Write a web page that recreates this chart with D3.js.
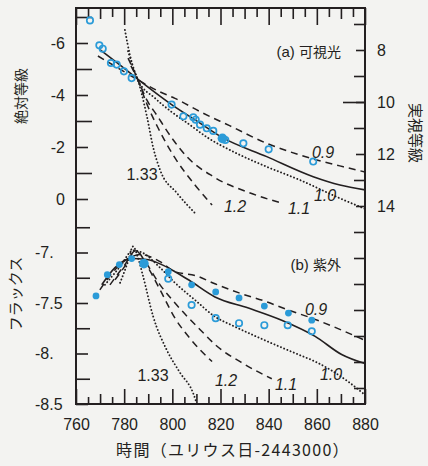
<!DOCTYPE html>
<html>
<head>
<meta charset="utf-8">
<script src="https://cdn.jsdelivr.net/npm/d3@7"></script>
<style>
  body { margin: 0; background: #f3f3f1; }
  svg { display: block; }
  text { font-family: "Liberation Sans", Arial, sans-serif; fill: #231f20; }
  .jp { font-family: "Noto Sans CJK JP", sans-serif; }
</style>
</head>
<body>
<svg width="428" height="466"></svg>
<script>
// axis ticks
const dayTicks = [760, 780, 800, 820, 840, 860, 880]
const magTicks = [-6, -4, -2, 0]
const fluxTicks = [-7, -7.5, -8, -8.5]
const fluxTickLabels = ['-7.', '-7.5', '-8.', '-8.5']
const appTicks = [8, 10, 12, 14]

// (a) visible: observed absolute magnitude
const visOpen = [[765.8, -6.87], [769.7, -5.91], [771.1, -5.78], [774.5, -5.23], [776.9, -5.17],
  [779.9, -4.91], [783.1, -4.65], [799.7, -3.63], [804.6, -3.18], [808.7, -3.14], [809.7, -3.05],
  [811.5, -2.86], [814.3, -2.72], [817, -2.62], [822, -2.27], [829.5, -2.14], [840, -1.91], [858.5, -1.44]]
const visFilled = [[820.8, -2.33]]

// (a) model curves
const visSolid = [[770, -5.74], [778.3, -5.15], [785.9, -4.59], [799.7, -3.63], [811.5, -2.92],
  [820.5, -2.38], [839.2, -1.63], [858.5, -0.86], [869.6, -0.54], [880, -0.35]]
const vis09 = [[769.1, -5.5], [777.4, -5.04], [785.7, -4.58], [794.9, -4.12], [801.1, -3.87],
  [811.5, -3.36], [824, -2.81], [839.2, -2.14], [853, -1.69], [871, -1.24], [880, -1.04]]
const vis10 = [[781.6, -5.69], [785.7, -4.58], [792.8, -3.88], [799.7, -3.35], [807.3, -2.85],
  [814.8, -2.35], [824, -1.88], [839.2, -1.24], [853, -0.73], [868.3, -0.08], [880, 0.38]]
const vis11 = [[782.8, -5.12], [785.7, -4.58], [789.4, -3.81], [793.5, -3.23], [800.4, -2.27],
  [806, -1.63], [817, -0.86], [832.3, -0.23], [845.1, 0.15]]
const vis12 = [[781.6, -5.42], [785.7, -4.58], [789.1, -3.73], [794.1, -2.73], [801.1, -1.58],
  [809.4, -0.54], [816.5, 0.23]]
const vis133 = [[780.3, -6.5], [782.4, -5.54], [784.1, -4.96], [785.7, -4.58], [787.4, -4.0],
  [789.5, -3.15], [792, -2.0], [794.9, -1.12], [801.9, -0.23], [809.4, 0.54]]

// (b) ultraviolet: log flux
const uvFilled = [[768.3, -7.43], [773, -7.22], [778, -7.12], [783.1, -7.06], [798.3, -7.19],
  [808, -7.32], [818, -7.39], [827.7, -7.45], [838.2, -7.53], [848.2, -7.6], [857.9, -7.67]]
const uvFilledBig = [[788.2, -7.11]]
const uvOpen = [[798.3, -7.26], [808, -7.52], [818, -7.65], [827.7, -7.7], [838.2, -7.72],
  [847.9, -7.72], [857.9, -7.78]]

// (b) model curves
const uvSolid = [[770.7, -7.32], [776.2, -7.15], [783.1, -7.06], [789.4, -7.07], [795.6, -7.12],
  [801.1, -7.19], [807.3, -7.28], [817.7, -7.44], [831.6, -7.55], [845.4, -7.67], [859.3, -7.83],
  [870.3, -8.01], [880, -8.1]]
const uv09 = [[769.9, -7.37], [776.2, -7.17], [782.4, -7.05], [786.6, -7.02], [794.9, -7.09],
  [801.1, -7.19], [809.8, -7.23], [817.7, -7.31], [827.7, -7.4], [838.2, -7.48], [848.2, -7.57],
  [857.9, -7.65], [880, -7.87]]
const uv10 = [[772, -7.32], [778.3, -7.14], [783.7, -6.98], [787.4, -7.0], [794.9, -7.15],
  [801.1, -7.3], [809.4, -7.47], [818, -7.64], [824.7, -7.72], [838.5, -7.87], [852.3, -8.01],
  [859.3, -8.08], [873.1, -8.28], [880, -8.41]]
const uv11 = [[774.1, -7.32], [780.3, -7.12], [784.9, -6.98], [788.7, -7.09], [794.9, -7.32],
  [801.1, -7.5], [812.2, -7.78], [817.7, -7.91], [830.2, -8.11], [841.3, -8.25]]
const uv12 = [[776.2, -7.27], [781.6, -7.09], [784.5, -6.98], [789.9, -7.15], [794.9, -7.37],
  [801.1, -7.65], [807.3, -7.85], [816.5, -8.08]]
const uv133 = [[778.3, -7.3], [781.6, -7.09], [783.7, -6.94], [785.7, -7.05], [787.8, -7.23],
  [792, -7.63], [797.8, -7.97], [803.2, -8.19], [808.6, -8.39], [810.2, -8.5]]

const svg = d3.select('svg')
const ink = '#231f20'
const blue = '#2b9bd8'

const x = d3.scaleLinear().domain([760, 880]).range([76, 365])
const yMag = d3.scaleLinear().domain([-6, 0]).range([43, 199])
const yApp = d3.scaleLinear().domain([8, 14]).range([50, 206])
const yFlux = d3.scaleLinear().domain([-7, -8.5]).range([252.5, 404])

const frame = { top: 8, bottom: 404, left: 76, right: 365 }

// ticks (all pointing inward)
const tickStyle = g => g
  .call(g => g.select('.domain').remove())
  .call(g => g.selectAll('line').attr('stroke', ink).attr('stroke-width', 1.6))
  .call(g => g.selectAll('text').attr('font-size', 16).attr('fill', ink))

svg.append('g').attr('transform', `translate(0,${frame.bottom})`)
  .call(d3.axisBottom(x).tickValues(dayTicks).tickSizeInner(-15).tickSizeOuter(0).tickPadding(15))
  .call(tickStyle)
svg.append('g').attr('transform', `translate(0,${frame.bottom})`)
  .call(d3.axisBottom(x).tickValues(d3.range(770, 880, 20)).tickSizeInner(-10).tickSizeOuter(0).tickFormat(''))
  .call(tickStyle)
svg.append('g').attr('transform', `translate(0,${frame.bottom})`)
  .call(d3.axisBottom(x).tickValues(d3.range(765, 880, 10)).tickSizeInner(-7).tickSizeOuter(0).tickFormat(''))
  .call(tickStyle)

svg.append('g').attr('transform', `translate(0,${frame.top})`)
  .call(d3.axisTop(x).tickValues(dayTicks).tickSizeInner(-17).tickSizeOuter(0).tickFormat(''))
  .call(tickStyle)
svg.append('g').attr('transform', `translate(0,${frame.top})`)
  .call(d3.axisTop(x).tickValues(d3.range(770, 880, 20)).tickSizeInner(-11).tickSizeOuter(0).tickFormat(''))
  .call(tickStyle)
svg.append('g').attr('transform', `translate(0,${frame.top})`)
  .call(d3.axisTop(x).tickValues(d3.range(765, 880, 10)).tickSizeInner(-9).tickSizeOuter(0).tickFormat(''))
  .call(tickStyle)

svg.append('g').attr('transform', `translate(${frame.left},0)`)
  .call(d3.axisLeft(yMag).tickValues(magTicks).tickSizeInner(-12).tickSizeOuter(0).tickPadding(11).tickFormat(d => String(d)))
  .call(tickStyle)
svg.append('g').attr('transform', `translate(${frame.left},0)`)
  .call(d3.axisLeft(yMag).tickValues([-7, -5, -3, -1]).tickSizeInner(-16).tickSizeOuter(0).tickFormat(''))
  .call(tickStyle)

svg.append('g').attr('transform', `translate(${frame.left},0)`)
  .call(d3.axisLeft(yFlux).tickValues(fluxTicks).tickSizeInner(-12).tickSizeOuter(0).tickPadding(41).tickFormat((d, i) => fluxTickLabels[i]))
  .call(tickStyle)
  .call(g => g.selectAll('text').attr('text-anchor', 'start'))
svg.append('g').attr('transform', `translate(${frame.left},0)`)
  .call(d3.axisLeft(yFlux).tickValues([-6.75, -7.25, -7.75, -8.25]).tickSizeInner(-14).tickSizeOuter(0).tickFormat(''))
  .call(tickStyle)

svg.append('g').attr('transform', `translate(${frame.right},0)`)
  .call(d3.axisRight(yApp).tickValues(appTicks).tickSizeInner(-9).tickSizeOuter(0).tickPadding(12).tickFormat(d3.format('d')))
  .call(tickStyle)
svg.append('g').attr('transform', `translate(${frame.right},0)`)
  .call(d3.axisRight(yApp).tickValues([10]).tickSizeInner(-22).tickSizeOuter(0).tickFormat(''))
  .call(tickStyle)
svg.append('g').attr('transform', `translate(${frame.right},0)`)
  .call(d3.axisRight(yApp).tickValues([7, 9, 11, 13, 15, 16, 17, 18, 19, 20, 21]).tickSizeInner(-11).tickSizeOuter(0).tickFormat(''))
  .call(tickStyle)

// frame
svg.append('rect')
  .attr('x', frame.left).attr('y', frame.top)
  .attr('width', frame.right - frame.left).attr('height', frame.bottom - frame.top)
  .attr('fill', 'none').attr('stroke', ink).attr('stroke-width', 2)

// model curves
const styles = {
  solid: { dash: null, width: 1.6, cap: 'butt' },
  dash: { dash: '7,5', width: 1.5, cap: 'butt' },
  dot: { dash: '0.1,3.4', width: 1.9, cap: 'round' }
}
function drawCurve(data, y, kind) {
  const s = styles[kind]
  svg.append('path')
    .datum(data)
    .attr('fill', 'none')
    .attr('stroke', ink)
    .attr('stroke-width', s.width)
    .attr('stroke-linecap', s.cap)
    .attr('stroke-dasharray', s.dash)
    .attr('d', d3.line().x(d => x(d[0])).y(d => y(d[1])).curve(d3.curveMonotoneX))
}
drawCurve(visSolid, yMag, 'solid')
drawCurve(vis09, yMag, 'dash')
drawCurve(vis10, yMag, 'dot')
drawCurve(vis11, yMag, 'dash')
drawCurve(vis12, yMag, 'dash')
drawCurve(vis133, yMag, 'dot')
drawCurve(uvSolid, yFlux, 'solid')
drawCurve(uv09, yFlux, 'dash')
drawCurve(uv10, yFlux, 'dot')
drawCurve(uv11, yFlux, 'dash')
drawCurve(uv12, yFlux, 'dash')
drawCurve(uv133, yFlux, 'dot')

// observations
function drawPoints(data, y, filled, r) {
  svg.append('g')
    .selectAll('circle')
    .data(data)
    .join('circle')
    .attr('cx', d => x(d[0]))
    .attr('cy', d => y(d[1]))
    .attr('r', r)
    .attr('fill', filled ? blue : 'none')
    .attr('stroke', blue)
    .attr('stroke-width', filled ? 0 : 1.7)
}
drawPoints(visOpen, yMag, false, 3.2)
drawPoints(visFilled, yMag, true, 4.8)
drawPoints(uvFilled, yFlux, true, 3.4)
drawPoints(uvFilledBig, yFlux, true, 4.8)
drawPoints(uvOpen, yFlux, false, 3.2)

// curve labels
const labels = [
  ['0.9', 323, 158, true], ['1.0', 325, 201, true], ['1.1', 299, 214, true], ['1.2', 235, 212, true], ['1.33', 142, 180, false],
  ['0.9', 316, 315, true], ['1.0', 331, 380, true], ['1.1', 286, 390, true], ['1.2', 226, 386, true], ['1.33', 153, 381, false]
]
svg.append('g')
  .selectAll('text')
  .data(labels)
  .join('text')
  .attr('x', d => d[1])
  .attr('y', d => d[2])
  .attr('text-anchor', 'middle')
  .attr('font-size', 16)
  .attr('font-style', d => d[3] ? 'italic' : 'normal')
  .text(d => d[0])

// panel labels
svg.append('text').attr('x', 341).attr('y', 57).attr('text-anchor', 'end').attr('font-size', 15)
  .call(t => t.append('tspan').text('(a) '))
  .call(t => t.append('tspan').attr('class', 'jp').attr('font-size', 14).text('可視光'))
svg.append('text').attr('x', 341).attr('y', 270).attr('text-anchor', 'end').attr('font-size', 15)
  .call(t => t.append('tspan').text('(b) '))
  .call(t => t.append('tspan').attr('class', 'jp').attr('font-size', 14).text('紫外'))

// axis titles
svg.append('text').attr('class', 'jp').attr('font-size', 14).attr('text-anchor', 'middle')
  .attr('transform', 'translate(26,96) rotate(-90)').text('絶対等級')
svg.append('text').attr('class', 'jp').attr('font-size', 15).attr('text-anchor', 'middle')
  .attr('transform', 'translate(21,294) rotate(-90)').text('フラックス')
svg.append('text').attr('class', 'jp').attr('font-size', 15).attr('text-anchor', 'middle')
  .attr('transform', 'translate(410,133) rotate(90)').text('実視等級')
svg.append('text').attr('class', 'jp').attr('font-size', 16).attr('letter-spacing', 1.3).attr('text-anchor', 'middle')
  .attr('x', 233).attr('y', 456).text('時間（ユリウス日-2443000）')
</script>
</body>
</html>
